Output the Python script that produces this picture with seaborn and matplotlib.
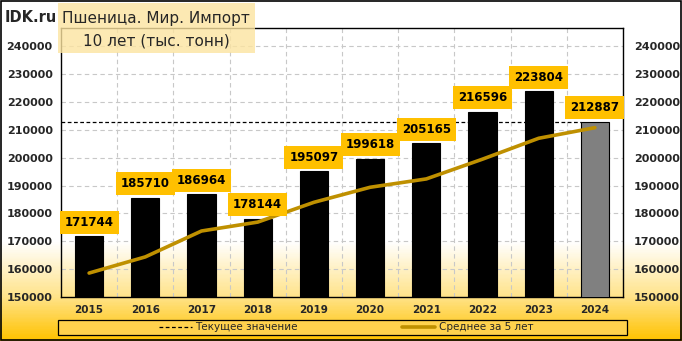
import numpy as np
import pandas as pd
import matplotlib
matplotlib.use("Agg")
import matplotlib.pyplot as plt
import seaborn as sns
from matplotlib.colors import LinearSegmentedColormap
from matplotlib.lines import Line2D

years = ["2015", "2016", "2017", "2018", "2019", "2020", "2021", "2022", "2023", "2024"]
values = [171744, 185710, 186964, 178144, 195097, 199618, 205165, 216596, 223804, 212887]
avg5 = [158600, 164400, 173700, 176900, 184000, 189400, 192400, 199500, 207000, 210800]
current = 212887
yticks = [150000, 160000, 170000, 180000, 190000, 200000, 210000, 220000, 230000, 240000]

sns.set_theme(style="white")
plt.rcParams['font.family'] = ['DejaVu Sans']

W, H = 682, 341
fig = plt.figure(figsize=(W / 100, H / 100), dpi=100)

# background gradient
bg = fig.add_axes([0, 0, 1, 1], zorder=-10)
cmap = LinearSegmentedColormap.from_list(
    "g", [(0.0, "#FFC200"), (0.13, "#FFE48C"), (0.29, "#FFFFFF"), (1.0, "#FFFFFF")])
grad = np.linspace(0, 1, 341).reshape(-1, 1)
bg.imshow(grad, aspect="auto", cmap=cmap, origin="lower", extent=[0, 1, 0, 1])
bg.set_xlim(0, 1); bg.set_ylim(0, 1)
bg.axis("off")
bg.add_patch(plt.Rectangle((0.0015, 0.003), 0.997, 0.994, fill=False, ec="black", lw=1.2,
                           transform=bg.transAxes))

ax = fig.add_axes([61 / W, 1 - 297 / H, (623 - 61) / W, (297 - 28) / H])
ax.set_facecolor("none")

df = pd.DataFrame({"year": years, "value": values, "avg": avg5})
colors = ["black"] * 9 + ["#808080"]
sns.barplot(data=df, x="year", y="value", hue="year", palette=colors, legend=False,
            width=0.5, ax=ax, edgecolor="black", linewidth=0.8, zorder=3)
sns.lineplot(x=np.arange(len(years)), y=avg5, ax=ax, color="#BF9000", lw=2.6, zorder=5)
ax.hlines(current, -0.5, 9 - 0.25, colors="black", linestyles=(0, (3, 2)), lw=0.9, zorder=4)

ax.set_ylim(150000, 246600)
ax.set_xlim(-0.5, 9.5)
ax.set_yticks(yticks)
ax.set_yticklabels([str(v) for v in yticks], fontsize=8, fontweight="bold")
ax.set_xticks(range(len(years)))
ax.set_xticklabels(years, fontsize=7.5, fontweight="bold")
ax.set_xlabel(""); ax.set_ylabel("")
ax.tick_params(axis="both", length=0, pad=6)
ax.tick_params(axis="x", pad=6)

for y in yticks[1:]:
    ax.axhline(y, color="#C8C8C8", lw=0.8, ls=(0, (4, 3)), zorder=1)
for x in np.arange(0.5, 9.5, 1.0):
    ax.axvline(x, color="#C8C8C8", lw=0.8, ls=(0, (4, 3)), zorder=1)
for s in ax.spines.values():
    s.set_color("black"); s.set_linewidth(1.0)

ax2 = ax.twinx()
ax2.set_ylim(ax.get_ylim())
ax2.set_yticks(yticks)
ax2.set_yticklabels([str(v) for v in yticks], fontsize=8, fontweight="bold")
ax2.tick_params(axis="y", length=0, pad=8)
for s in ax2.spines.values():
    s.set_visible(False)

for i, v in enumerate(values):
    ax.annotate(f"{v}", (i, v), xytext=(0, 14), textcoords="offset pixels",
                ha="center", va="center", fontsize=8.5, fontweight="bold", color="black",
                bbox=dict(boxstyle="square,pad=0.42", fc="#FFC000", ec="none"), zorder=6)

# title
fig.text(5 / W, 1 - 17 / H, "IDK.ru", fontsize=10.5, fontweight="bold", va="center", ha="left")
fig.patches.append(plt.Rectangle((58 / W, 1 - 53 / H), (255 - 58) / W, 50 / H, transform=fig.transFigure,
                                 fc="#FCE4A0", ec="none", alpha=0.8, zorder=5))
fig.text(156 / W, 1 - 18 / H, "Пшеница. Мир. Импорт", fontsize=11, va="center", ha="center", zorder=6)
fig.text(156 / W, 1 - 41 / H, "10 лет (тыс. тонн)", fontsize=11, va="center", ha="center", zorder=6)

# legend
fig.patches.append(plt.Rectangle((58 / W, 1 - 335 / H), (627 - 58) / W, 15 / H, transform=fig.transFigure,
                                 fc="#FFD24D", ec="black", lw=0.9, zorder=5))
handles = [Line2D([], [], color="black", lw=0.9, ls=(0, (3, 2))),
           Line2D([], [], color="#BF9000", lw=2.6)]
leg = fig.legend(handles, ["Текущее значение", "Среднее за 5 лет"], loc="center",
                 bbox_to_anchor=(346 / W, 1 - 327.5 / H), ncol=2, frameon=False, fontsize=7.5,
                 handlelength=3.2, handletextpad=0.3, columnspacing=10)
leg.set_zorder(7)

fig.savefig("out.png", dpi=100)
